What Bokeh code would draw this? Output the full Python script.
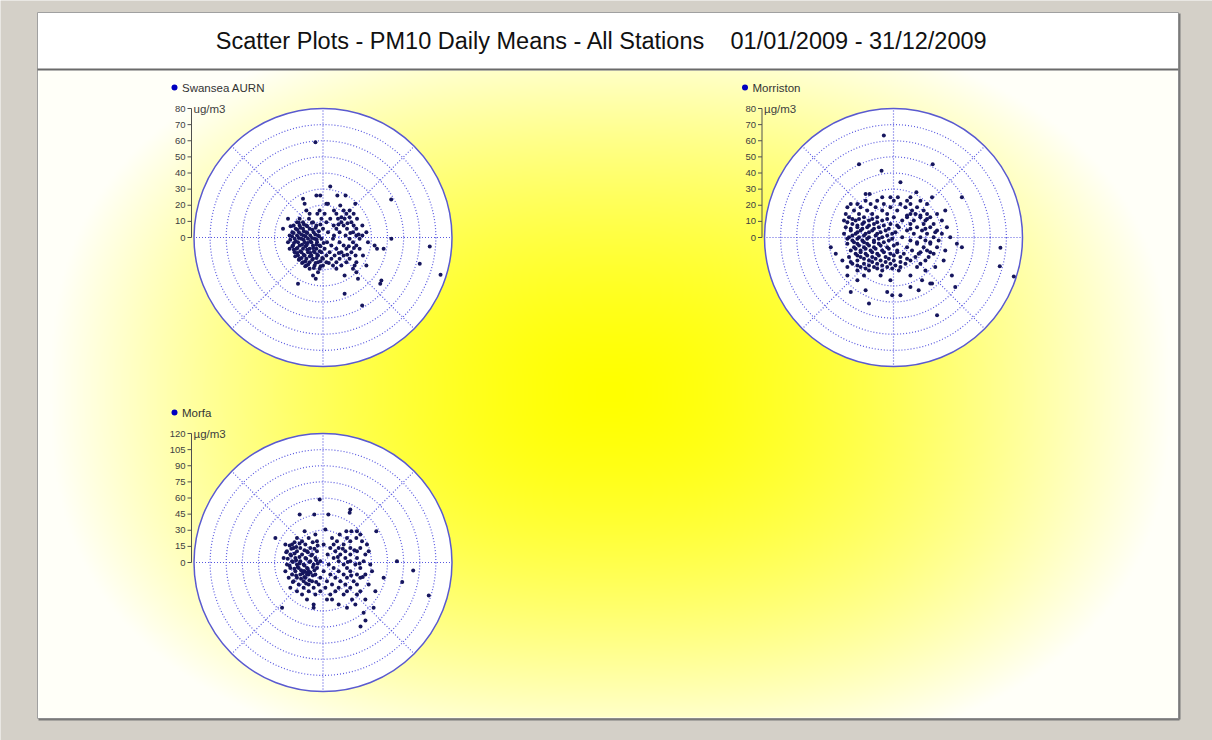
import numpy as np
from bokeh.plotting import figure
from bokeh.models import Range1d
from bokeh.core.properties import value
from bokeh.embed import file_html
from bokeh.resources import INLINE

# ---------------- data ----------------
TITLE_LEFT = "Scatter Plots - PM10 Daily Means - All Stations"
TITLE_RIGHT = "01/01/2009 - 31/12/2009"

stations = ["Swansea AURN", "Morriston", "Morfa"]
units = ["ug/m3", "\u00b5g/m3", "\u00b5g/m3"]
axis_max = [80, 80, 120]
axis_step = [10, 10, 15]

# daily means as (north component, [east components]) rows, in ug/m3
sw_rows = [
    (59.1, [-4.7]), (31.6, [4.5]), (26.0, [-4.1, -1.7, 8.9, 14.0]), (24.0, [-12.4]),
    (23.6, [42.3]), (20.9, [-11.4, 2.1, 3.1, 20.0]), (19.8, [10.7]),
    (16.7, [-10.3, -2.1, 6.8, 12.8, 16.5]), (14.7, [-8.3, -3.5, 1.0, 8.3, 14.5, 19.0]),
    (12.6, [11.4, 16.5]),
    (11.6, [-21.7, -14.5, -8.7, -1.0, 4.5, 9.3, 13.4, 21.1]),
    (9.5, [-16.1, -12.4, -6.2, 2.1, 11.4, 17.6]),
    (9.1, [-15.0, -6.9]), (8.0, [-11.8, -1.6, 9.6]), (8.8, [15.2]),
    (7.4, [-18.2, -14.5, -10.3, -4.1, 6.6, 12.8, 19.0, 24.4]),
    (6.9, [-20.1, -9.8]), (6.0, [-14.0, -4.6]),
    (5.4, [-24.8, -16.9, -12.4, -8.3, 0.0, 8.3, 14.9, 20.7]),
    (4.8, [-16.0, -6.6]), (3.9, [-11.9, -2.6]),
    (3.3, [-19.0, -14.9, -10.3, -5.8, 3.1, 10.3, 18.6, 26.9]),
    (2.8, [-18.2, -9.7, 16.9]), (1.8, [-13.5, -4.8, 22.1]),
    (1.2, [-20.7, -16.1, -12.0, -7.9, -3.1, 6.8, 14.0, 20.7, 24.4]),
    (0.7, [-19.2, -10.8, -2.5]), (-0.3, [-15.0, -6.8]),
    (-0.8, [-17.6, -13.4, -9.3, -5.2, -1.0, 6.2, 16.5, 22.7, 42.4]),
    (-1.4, [-20.3, -12.0, -3.9]), (-2.4, [-16.9, -7.8]),
    (-2.9, [-21.7, -15.5, -11.4, -7.2, -3.7, 2.5, 10.3, 18.6, 27.9]),
    (-3.4, [-18.0, -9.5, 0.4]), (-4.5, [-13.0, -4.1]),
    (-5.0, [-18.6, -14.5, -10.3, -6.2, -2.1, 5.2, 12.8, 20.7, 32.0]),
    (-5.6, [66.2]),
    (-5.5, [-19.0, -10.9, -1.6, 16.0]), (-6.5, [-15.9, -6.1, 19.2]),
    (-7.0, [-20.7, -16.5, -12.4, -8.3, -4.1, 1.0, 8.3, 14.5, 22.7, 33.5, 37.6]),
    (-7.6, [-18.1, -9.8]), (-8.6, [-14.1, -5.6, -2.0]),
    (-9.1, [-17.6, -13.4, -9.3, -5.2, -1.0, 4.1, 11.4, 17.6]),
    (-9.6, [-16.0, -7.7, 9.8]), (-10.7, [-12.0, -3.6, 15.0]),
    (-11.2, [-15.5, -11.4, -7.2, -3.1, 2.1, 7.2, 12.8, 20.2, 24.8]),
    (-11.7, [-17.2, -8.2]), (-12.7, [-13.3, -4.0, -0.5]),
    (-13.2, [-14.5, -10.3, -6.2, 0.0, 5.2, 10.3, 16.5]),
    (-13.8, [-15.0, -6.7]), (-14.8, [-10.9, -1.6]),
    (-15.3, [-12.4, -8.3, -3.1, 2.1, 8.3, 14.5, 20.7]),
    (-15.8, [-13.0, -4.6, 3.6]), (-16.3, [60.0]), (-16.8, [-9.2]),
    (-17.4, [-10.3, -5.2, 0.0, 6.2, 11.4, 19.6, 26.9]),
    (-17.9, [-11.0, -1.5]), (-18.9, [-5.7]),
    (-19.4, [-8.3, -2.1, 8.3, 18.6]),
    (-21.5, [-3.1, 20.7]), (-23.1, [72.9]), (-23.6, [-6.2, 13.4]),
    (-25.6, [-4.5, 21.7]), (-26.7, [36.2]), (-28.7, [-15.5, 35.5]),
    (-34.9, [13.4]), (-42.2, [24.3]),
]

mo_rows = [
    (63.3, [-6.0]), (45.5, [-21.4, 24.3]), (41.4, [-7.4]), (34.2, [4.3]), (28.0, [14.2]),
    (27.0, [-17.3, -14.8]), (24.9, [-7.0, -1.9, 2.7, 10.5, 23.9, 42.4]),
    (22.8, [-17.3, -10.1, 0.2, 8.4, 16.7]),
    (20.8, [-26.5, -22.4, -14.2, -6.0, 4.3, 10.5, 20.8]),
    (18.7, [-28.6, -20.4, -11.1, -1.9, 7.4, 14.6]),
    (16.7, [-24.5, -16.3, -7.0, 2.3, 11.5, 18.7, 32.1]),
    (14.6, [-29.6, -21.4, -13.2, -3.9, 10.5, 13.6, 20.8, 27.0]),
    (13.6, [8.4, 16.7]),
    (12.6, [-27.6, -18.3, -10.1, 0.2, 8.4, 16.7, 22.8]),
    (11.5, [-25.5, -21.4, -13.2, -3.9, 20.8]),
    (10.5, [-30.7, -23.5, -15.2, -7.0, 5.4, 12.6, 19.8, 30.0]),
    (9.5, [-28.6, -18.3, -10.1]),
    (8.4, [-25.5, -19.3, -12.1, -1.9, 10.5, 18.7, 24.9]),
    (7.4, [-22.4, -15.2, -6.0, 2.3]),
    (6.4, [-29.6, -22.4, -16.3, -9.1, 3.3, 14.6, 22.8, 33.1]),
    (5.4, [-26.5, -19.3, -12.1, -2.9, 10.5, 19.8]),
    (4.3, [-26.5, -20.4, -13.2, -4.9, 8.4, 17.7, 27.0]),
    (3.3, [-22.4, -15.2, -8.0, 1.2, 25.9]),
    (2.3, [-30.7, -23.5, -17.3, -10.1, -0.8, 12.6, 20.8, 30.0]),
    (1.2, [-25.5, -18.3, -11.1, -3.9]),
    (0.2, [-27.6, -21.4, -15.2, -7.0, 5.4, 16.7, 24.9, 35.2]),
    (-0.8, [-28.6, -22.4, -16.3, -9.1, -0.8]),
    (-1.9, [-25.5, -19.3, -12.1, -2.9, 10.5, 19.8, 28.0]),
    (-2.9, [-24.5, -18.3, -12.1, -6.0, 14.6, 22.8]),
    (-3.9, [-28.6, -22.4, -16.3, -9.1, 2.3, 14.6, 22.8, 39.3]),
    (-4.9, [-21.4, -15.2, -8.0, 0.2]),
    (-6.0, [-38.9, -24.5, -18.3, -12.1, -3.9, 8.4, 18.7, 27.0, 42.4]),
    (-6.4, [66.3]),
    (-7.0, [-23.5, -17.3, -11.1, -2.9]),
    (-8.0, [-26.5, -20.4, -14.2, -7.0, 2.3, 11.5, 20.8, 32.1]),
    (-9.1, [-20.4, -13.2, -6.0, 2.3, 16.7, 22.8]),
    (-10.1, [-35.8, -23.5, -17.3, -10.1, -1.9, 6.4, 15.6, 24.9]),
    (-11.1, [-22.4, -16.3, -9.1, 0.2]),
    (-12.1, [-27.6, -20.4, -13.2, -4.9, 4.3, 13.6, 21.8]),
    (-13.2, [-18.3, -11.1, -2.9, 8.4]),
    (-14.2, [-31.7, -22.4, -15.2, -8.0, 0.2, 10.5, 19.8, 31.1]),
    (-15.2, [-26.5, -13.2, -4.9, 4.3]),
    (-16.3, [-25.5, -18.3, -10.1, -1.9, 7.4, 16.7]),
    (-17.3, [-22.4, -15.2, -7.0, 1.2]),
    (-17.8, [65.9]),
    (-18.3, [-28.6, -20.4, -12.1, -3.9, 4.3, 14.6, 25.9]),
    (-19.3, [-17.3, -10.1, -0.8]),
    (-20.4, [-22.4, -15.2, -7.0, 3.3, 19.8]),
    (-23.5, [-28.6, -18.3, -8.0, 10.5, 36.2]),
    (-24.2, [74.6]),
    (-26.5, [-22.4, -1.9, 17.7]), (-28.6, [22.8, 23.9]), (-30.7, [10.5, 38.3]),
    (-32.7, [-17.3, 15.6]), (-33.8, [-26.5, -3.9]), (-35.8, [-0.8, 4.3]),
    (-41.0, [-15.2]), (-48.2, [27.0]),
]

mf_rows = [
    (58.6, [-3.1]), (49.3, [25.4]), (46.2, [24.8]), (44.6, [-21.7, -8.1, 5.0]),
    (30.7, [2.2]), (29.1, [-17.1, 21.7, 26.4, 31.6, 49.6]), (26.0, [-7.1, 15.5, 34.7]),
    (22.9, [-44.3, -24.2, -13.3, 8.4, 22.3, 31.0]),
    (19.8, [-19.5, -5.6, 13.0, 25.4, 36.3]),
    (18.9, [-26.5, -9.6]), (17.6, [-21.8]),
    (16.7, [-35.0, -28.8, -16.4, 0.6, 9.9, 19.2, 40.9]),
    (15.8, [-31.0, -5.0]), (14.4, [-24.9]),
    (13.6, [-27.3, -21.1, -11.8, 6.8, 14.6, 25.4, 34.7]),
    (12.8, [-29.5, -8.0, 18.4]), (11.4, [-17.2, 29.3]),
    (10.5, [-33.5, -24.2, -14.9, -5.6, 11.5, 20.8, 31.6, 42.5]),
    (9.6, [-34.2, -14.1]), (8.3, [-26.4]),
    (7.4, [-30.4, -19.5, -10.2, 4.3, 16.1, 25.4, 39.4]),
    (6.6, [-29.7, -11.0]), (5.2, [-21.9, 13.8]),
    (4.3, [-36.6, -25.7, -16.4, -7.1, 9.9, 20.8, 31.6]),
    (3.5, [-32.8, -15.6]), (2.1, [-25.0, -6.3]),
    (1.2, [-28.8, -21.1, -11.8, -2.5, 14.6, 25.4, 37.8, 68.8]),
    (0.4, [-28.0, -12.6, 23.0]), (-1.0, [-21.8, -4.9, 34.0]),
    (-1.9, [-33.5, -24.2, -18.0, -8.7, 5.3, 19.2, 30.1, 44.0]),
    (-2.7, [-31.2, -17.3]), (-4.1, [-23.5, -9.4]),
    (-5.0, [-30.4, -22.6, -14.9, -5.6, 9.9, 22.3, 34.7]),
    (-5.8, [-26.6, -14.2]), (-7.2, [-20.4, -8.0]),
    (-7.4, [83.9]),
    (-8.1, [-35.0, -25.7, -18.0, -13.3, 0.6, 14.6, 25.4, 45.6]),
    (-8.2, [-17.3]), (-9.3, [-15.0, -11.7]), (-10.0, [-18.8]),
    (-11.1, [-13.6]),
    (-11.2, [-28.8, -21.1, -14.9, -7.1, 6.8, 19.2, 31.6, 39.4]),
    (-12.0, [-25.0, -9.5, 26.1]), (-13.4, [-17.4, 37.0]),
    (-14.3, [-31.9, -24.2, -16.4, -2.5, 11.5, 22.3, 34.7, 56.4]),
    (-15.1, [-20.4]), (-16.5, [-12.6]),
    (-17.4, [-27.3, -18.0, -10.2, 3.7, 16.1, 28.5]),
    (-18.2, [-28.1, -6.4, 73.7]), (-19.6, [-15.7]),
    (-20.5, [-22.6, -13.3, -4.0, 8.4, 20.8, 31.6, 42.5]),
    (-23.6, [-30.4, -18.0, -8.7, 2.2, 14.6, 25.4]),
    (-26.7, [-24.2, -13.3, -2.5, 11.5, 22.3, 34.7, 48.7]),
    (-29.8, [-19.5, -7.1, 6.8, 19.2, 31.6]),
    (-30.7, [98.4]),
    (-34.4, [-14.9, 3.7, 8.4, 27.0, 39.4]),
    (-39.1, [-8.7, 14.6, 30.1]), (-42.2, [-38.1, -8.7, 22.3, 47.1]),
    (-46.8, [37.8]), (-53.9, [39.5]), (-59.5, [34.9]),
]

all_rows = [sw_rows, mo_rows, mf_rows]

# ---------------- layout (page pixels) ----------------
W, H = 1212, 740


def Y(py):
    """page pixel row -> data y of the main (pixel) range"""
    return H - py


centers = [(322.5, 237.0), (893.0, 237.0), (322.5, 562.0)]
RADIUS_PX = 129.0
FONT = value("Liberation Sans")

p = figure(width=W, height=H, x_range=Range1d(0, W), y_range=Range1d(0, H),
           output_backend="svg", toolbar_location=None, min_border=0,
           x_axis_location=None, y_axis_location=None)
p.grid.visible = False
p.outline_line_color = None
p.background_fill_color = "#d4d0c8"
p.border_fill_color = "#d4d0c8"

# outer panel
p.quad(left=[37], right=[1178], top=[Y(12)], bottom=[Y(718)],
       fill_color="white", line_color="#a0a0a0", line_width=1)

# yellow gradient background of the chart area
gx0, gx1, gy0, gy1 = 38, 1177, 70, 717
nx, ny = (gx1 - gx0) // 2, (gy1 - gy0) // 2
xs = np.linspace(gx0, gx1, nx)
ys = np.linspace(gy1, gy0, ny)  # row 0 = bottom
X, Yg = np.meshgrid(xs, ys)
dx = np.abs(X - 610) / 560.0
dy = np.abs(Yg - 392) / 375.0
t = (dx ** 2.5 + dy ** 2.5) ** 0.4
blue = (np.clip(t, 0, 1) ** 1.5 * 248).astype(np.uint8)
img = np.empty((ny, nx), dtype=np.uint32)
view = img.view(dtype=np.uint8).reshape((ny, nx, 4))
view[..., 0] = 255
view[..., 1] = 255
view[..., 2] = blue
view[..., 3] = 255
p.image_rgba(image=[img], x=gx0, y=Y(gy1), dw=gx1 - gx0, dh=gy1 - gy0)

# title separator and panel shadow
p.segment(x0=[37], y0=[Y(69)], x1=[1178], y1=[Y(69)], line_color="#6a6a6a", line_width=2)
p.segment(x0=[1179, 38], y0=[Y(13), Y(719)], x1=[1179, 1179], y1=[Y(719), Y(719)],
          line_color="#7a7a7a", line_width=2)

# title
p.text(x=[705], y=[Y(40)], text=[TITLE_LEFT], text_align="right", text_baseline="middle",
       text_font=FONT, text_font_size="23.5px", text_color="#111111")
p.text(x=[730], y=[Y(40)], text=[TITLE_RIGHT], text_align="left", text_baseline="middle",
       text_font=FONT, text_font_size="23.5px", text_color="#111111")

extra_x, extra_y = {}, {}
for i in range(3):
    cx, cy = centers[i]
    k = RADIUS_PX / axis_max[i]
    extra_x[f"x{i}"] = Range1d((0 - cx) / k, (W - cx) / k)
    extra_y[f"y{i}"] = Range1d((cy - H) / k, (cy - 0) / k)
p.extra_x_ranges = extra_x
p.extra_y_ranges = extra_y

GRID = "#5858e0"
for i in range(3):
    xr, yr = f"x{i}", f"y{i}"
    vmax, step = axis_max[i], axis_step[i]
    k = RADIUS_PX / vmax
    kw = dict(x_range_name=xr, y_range_name=yr)

    # plot disc
    p.circle(x=[0], y=[0], radius=vmax, fill_color="white", line_color=None, **kw)
    # rings
    rings = list(range(step, vmax, step))
    p.circle(x=[0] * len(rings), y=[0] * len(rings), radius=rings, fill_color=None,
             line_color=GRID, line_dash="1 2", line_width=1.2, **kw)
    # spokes
    ang = np.deg2rad(np.arange(0, 360, 45))
    p.segment(x0=np.zeros(len(ang)), y0=np.zeros(len(ang)),
              x1=vmax * np.sin(ang), y1=vmax * np.cos(ang),
              line_color=GRID, line_dash="1 2", line_width=1.2, **kw)
    # outer circle
    p.circle(x=[0], y=[0], radius=vmax, fill_color=None, line_color="#5a5ad0",
             line_width=1.5, **kw)

    # points
    east = [e for n, es in all_rows[i] for e in es]
    north = [n for n, es in all_rows[i] for e in es]
    p.scatter(x=east, y=north, size=4, fill_color="#16165e", line_color=None, **kw)

    # value axis on the left
    ax = -vmax - 2.5 / k
    ticks = list(range(0, vmax + 1, step))
    p.segment(x0=[ax], y0=[0], x1=[ax], y1=[vmax], line_color="#505050", line_width=1, **kw)
    p.segment(x0=[ax - 4 / k] * len(ticks), y0=ticks, x1=[ax] * len(ticks), y1=ticks,
              line_color="#505050", line_width=1, **kw)
    p.text(x=[ax] * len(ticks), y=ticks, text=[str(v) for v in ticks], x_offset=-6,
           text_align="right", text_baseline="middle", text_font=FONT,
           text_font_size="9.5px", text_color="#404040", **kw)
    p.text(x=[ax], y=[vmax], text=[units[i]], x_offset=2, text_align="left",
           text_baseline="middle", text_font=FONT,
           text_font_size="11.5px", text_color="#404040", **kw)

    # legend
    p.scatter(x=[ax - 17 / k], y=[vmax + 21 / k], size=6, fill_color="#0000c0",
              line_color=None, **kw)
    p.text(x=[ax], y=[vmax + 21 / k], text=[stations[i]], x_offset=-9.5, text_align="left",
           text_baseline="middle", text_font=FONT,
           text_font_size="11.5px", text_color="#333333", **kw)

open("out.html", "w").write(file_html(p, INLINE))
